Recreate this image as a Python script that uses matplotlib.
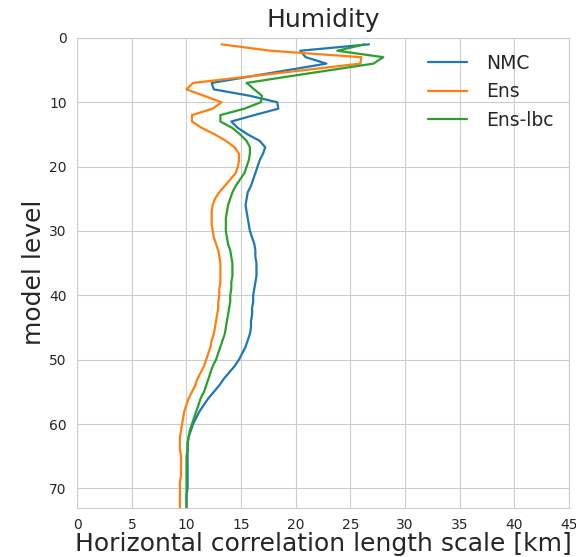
import numpy as np
import matplotlib
matplotlib.use("Agg")
import matplotlib.pyplot as plt
import seaborn as sns

# model levels 1..73
levels = np.arange(1, 74)

nmc = [
    26.7, 20.4, 20.9, 22.8, 19.3, 15.8, 12.3, 12.5, 15.8, 18.3,
    18.4, 16.2, 14.1, 14.7, 15.6, 16.7, 17.2, 17.0, 16.7, 16.5,
    16.3, 16.1, 15.9, 15.6, 15.5, 15.4, 15.5, 15.6, 15.7, 15.8,
    16.0, 16.2, 16.3, 16.3, 16.4, 16.4, 16.4, 16.3, 16.2, 16.1,
    16.1, 16.0, 16.0, 15.9, 15.9, 15.8, 15.6, 15.4, 15.1, 14.8,
    14.4, 13.9, 13.4, 13.0, 12.5, 12.0, 11.6, 11.2, 10.9, 10.6,
    10.4, 10.2, 10.1, 10.1, 10.1, 10.1, 10.1, 10.1, 10.1, 10.1,
    10.0, 10.0, 10.0,
]

ens = [
    13.2, 17.7, 26.0, 25.9, 20.8, 15.7, 10.6, 10.0, 11.6, 13.2,
    12.4, 10.5, 10.5, 11.4, 12.6, 13.6, 14.4, 14.8, 14.8, 14.7,
    14.5, 14.0, 13.5, 13.0, 12.6, 12.4, 12.3, 12.3, 12.3, 12.4,
    12.5, 12.7, 12.9, 13.0, 13.1, 13.1, 13.1, 13.1, 13.0, 13.0,
    12.9, 12.9, 12.8, 12.7, 12.6, 12.5, 12.3, 12.2, 12.0, 11.8,
    11.6, 11.3, 11.0, 10.8, 10.5, 10.2, 10.0, 9.8, 9.7, 9.6,
    9.5, 9.4, 9.4, 9.4, 9.5, 9.5, 9.5, 9.5, 9.4, 9.4,
    9.4, 9.4, 9.4,
]

ens_lbc = [
    26.3, 23.8, 28.0, 27.1, 23.2, 19.3, 15.5, 16.2, 16.9, 16.8,
    15.3, 13.1, 13.1, 14.2, 14.9, 15.5, 15.8, 15.8, 15.7, 15.5,
    15.3, 14.9, 14.5, 14.2, 14.0, 13.8, 13.7, 13.6, 13.6, 13.6,
    13.7, 13.8, 14.0, 14.1, 14.2, 14.2, 14.2, 14.1, 14.1, 14.0,
    14.0, 13.9, 13.8, 13.7, 13.6, 13.5, 13.3, 13.1, 12.9, 12.7,
    12.4, 12.2, 12.0, 11.8, 11.6, 11.3, 11.1, 10.9, 10.7, 10.5,
    10.3, 10.2, 10.1, 10.1, 10.0, 10.0, 10.0, 10.0, 10.0, 10.0,
    10.0, 10.0, 10.0,
]

labels = ["NMC", "Ens", "Ens-lbc"]

sns.set_style("whitegrid")
plt.rcParams["font.family"] = ["DejaVu Sans"]

fig = plt.figure(figsize=(5.76, 5.57), dpi=100)
ax = fig.add_axes([0.134, 0.0885, 0.854, 0.8435])

for series, label in zip([nmc, ens, ens_lbc], labels):
    ax.plot(series, levels, label=label, linewidth=1.6)

ax.set_xlim(0, 45)
ax.set_ylim(73, 0)
ax.set_xticks(np.arange(0, 46, 5))
ax.set_yticks(np.arange(0, 71, 10))
ax.tick_params(labelsize=10, colors=".15", pad=4)

ax.set_title("Humidity", fontsize=18, color=".15", pad=8)
ax.set_xlabel("Horizontal correlation length scale [km]", fontsize=18,
              color=".15", labelpad=0)
ax.set_ylabel("model level", fontsize=18, color=".15", labelpad=2)

ax.legend(loc="upper right", fontsize=13.5, frameon=False,
          handlelength=2.1, handletextpad=1.0, borderaxespad=0.45)

fig.savefig("out.png", dpi=100)
